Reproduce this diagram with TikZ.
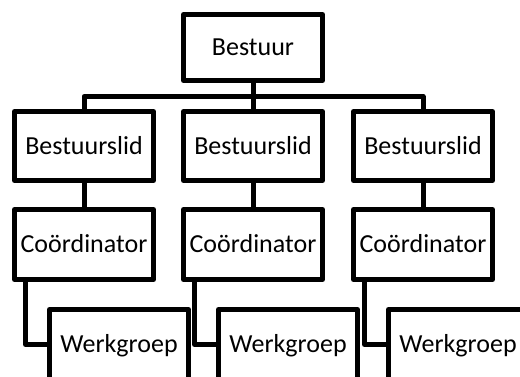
\documentclass[tikz,border=0pt]{standalone}
\usepackage{fontspec}
\setmainfont{Carlito}
\usepackage{tikz}

\begin{document}
\begin{tikzpicture}[x=1pt,y=-1pt,
	box/.style={draw,line width=5pt,line join=round,minimum width=139pt,minimum height=69pt,inner sep=0pt,text height=16.7pt,text depth=0pt,font=\fontsize{26}{31}\selectfont},
	link/.style={line width=5pt,line join=round}]
	\useasboundingbox (0,0) rectangle (520,376);
	\clip (0,0) rectangle (520,376);
	% top of the chart
	\node[box,minimum height=66pt] (bestuur) at (253,47.5) {Bestuur};
	% three branches
	\foreach \i/\x in {1/84,2/253,3/423} {
		\node[box] (lid\i) at (\x,146) {Bestuurslid};
		\node[box,minimum height=70pt] (coord\i) at (\x,244.5) {Coördinator};
		\node[box,minimum height=70pt] (werk\i) at (\x+35,344.5) {Werkgroep};
		\draw[link] (lid\i) -- (coord\i);
		\draw[link] ([xshift=13.5pt]coord\i.south west) |- (werk\i.west);
	}
	\coordinate (bus) at (253,96.5);
	\draw[link] (bestuur) -- (lid2);
	\draw[link] (lid1.north) |- (bus) -| (lid3.north);
\end{tikzpicture}
\end{document}
